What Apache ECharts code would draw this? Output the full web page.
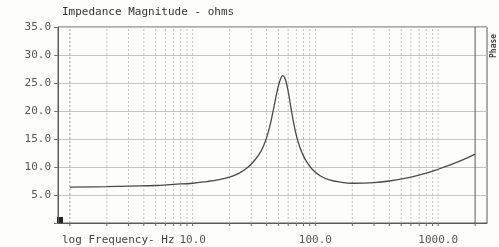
<!DOCTYPE html>
<html>
<head>
<meta charset="utf-8">
<script src="https://cdn.jsdelivr.net/npm/echarts@6/dist/echarts.min.js"></script>
<style>
  html, body { margin: 0; padding: 0; background: #fdfdfb; }
  #main { width: 499px; height: 247px; }
</style>
</head>
<body>
<div id="main"></div>
<script>
// impedance curve (Hz / ohms)
var freq = [1, 2, 3, 5, 7, 10, 13, 16, 20, 24, 28, 32, 36, 38, 40, 42, 44, 46, 48, 50, 52, 54, 56, 58, 60, 62, 64, 67, 70, 74, 78, 85, 95, 110, 130, 160, 200, 300, 400, 600, 800, 1000, 1300, 1600, 2000];
var ohms = [6.4, 6.5, 6.6, 6.7, 6.9, 7.1, 7.4, 7.7, 8.2, 8.9, 9.9, 11.2, 12.8, 13.9, 15.2, 16.8, 18.7, 20.8, 22.8, 24.5, 25.7, 26.3, 26.0, 25.0, 23.5, 21.7, 19.9, 17.5, 15.6, 13.8, 12.5, 10.9, 9.5, 8.4, 7.7, 7.3, 7.1, 7.2, 7.5, 8.2, 8.9, 9.6, 10.5, 11.3, 12.3];

// log grid lines (1..9, 10..90, 100..900, 1000, 2000)
var gridFreqs = [1, 2, 3, 4, 5, 6, 7, 8, 9, 10, 20, 30, 40, 50, 60, 70, 80, 90, 100, 200, 300, 400, 500, 600, 700, 800, 900, 1000, 2000];
var xLabels = [10, 100, 1000];
var yTicks = [5, 10, 15, 20, 25, 30, 35];

var myChart = echarts.init(document.getElementById('main'));
var mono = 'DejaVu Sans Mono';

var curve = [];
for (var i = 0; i < freq.length; i++) {
    curve.push([freq[i], ohms[i]]);
}

var option = {
    backgroundColor: '#fdfdfb',
    animation: false,
    grid: {
        left: 58, top: 27, right: 12, bottom: 24,
        show: true, borderColor: '#5a5a5a', borderWidth: 1
    },
    xAxis: {
        type: 'log',
        min: 0.8,
        max: 2500,
        axisLine: { show: true, lineStyle: { color: '#5a5a5a', width: 1 } },
        axisTick: { show: false },
        splitLine: { show: false },
        minorTick: { show: false },
        axisLabel: {
            margin: 12,
            fontFamily: mono, fontSize: 11, color: '#555',
            showMinLabel: true, showMaxLabel: true,
            formatter: function (v) {
                var r = Math.round(v);
                return xLabels.indexOf(r) >= 0 ? r.toFixed(1) : '';
            }
        }
    },
    yAxis: {
        type: 'value',
        min: 0,
        max: 35,
        interval: 5,
        axisLine: { show: true, lineStyle: { color: '#5a5a5a', width: 1 } },
        axisTick: { show: true, length: 4, lineStyle: { color: '#777' } },
        splitLine: { show: true, lineStyle: { color: '#c4c4c4', width: 1 } },
        axisLabel: {
            margin: 7,
            fontFamily: mono, fontSize: 11, color: '#555',
            formatter: function (v) {
                return yTicks.indexOf(v) >= 0 ? v.toFixed(1) : '';
            }
        }
    },
    graphic: [
        {
            type: 'text', left: 62, top: 7,
            style: { text: 'Impedance Magnitude - ohms', font: '11px "DejaVu Sans Mono"', fill: '#333' }
        },
        {
            type: 'text', left: 62, top: 235,
            style: { text: 'log Frequency- Hz', font: '11px "DejaVu Sans Mono"', fill: '#444' }
        },
        {
            type: 'text', x: 490, y: 58, rotation: Math.PI / 2,
            style: { text: 'Phase', font: 'bold 8px "DejaVu Sans Mono"', fill: '#444' }
        },
        {
            type: 'rect', shape: { x: 57, y: 217, width: 6, height: 6 },
            style: { fill: '#222' }
        }
    ],
    series: [
        {
            type: 'custom',
            silent: true,
            z: 1,
            data: gridFreqs.map(function (f) { return [f, 0]; }),
            renderItem: function (params, api) {
                var f = api.value(0);
                var p0 = api.coord([f, 0]);
                var p1 = api.coord([f, 35]);
                var solid = f === 2000;
                return {
                    type: 'group',
                    children: [
                        {
                            type: 'line',
                            shape: { x1: p0[0], y1: p0[1], x2: p1[0], y2: p1[1] },
                            style: {
                                stroke: solid ? '#5a5a5a' : (f === 1 ? '#999' : '#c4c4c4'),
                                lineWidth: 1,
                                lineDash: solid ? null : [2, 2]
                            }
                        },
                        {
                            type: 'line',
                            shape: { x1: p0[0], y1: p0[1], x2: p0[0], y2: p0[1] + 3 },
                            style: { stroke: '#666', lineWidth: 1 }
                        }
                    ]
                };
            }
        },
        {
            type: 'line',
            data: curve,
            smooth: 0.4,
            showSymbol: false,
            z: 3,
            lineStyle: { color: '#4a4a4a', width: 1.3 }
        }
    ]
};
myChart.setOption(option);
</script>
</body>
</html>
